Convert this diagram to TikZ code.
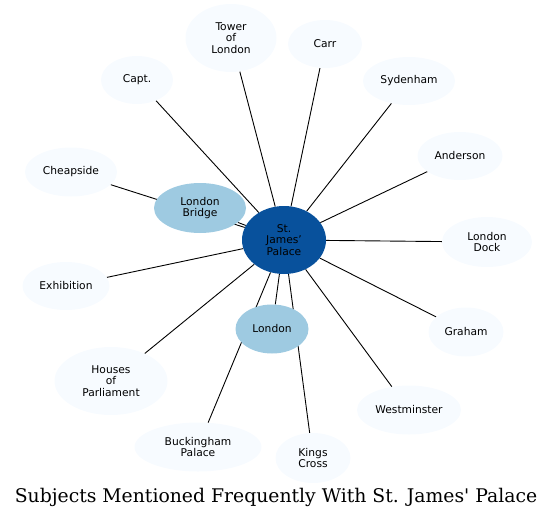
\documentclass[tikz,border=0pt]{standalone}
\usepackage{fontspec}
\setmainfont{DejaVu Sans}
\newfontfamily\titlefont{DejaVu Serif}
\usetikzlibrary{shapes.geometric,backgrounds}
\definecolor{hubblue}{HTML}{08519C}
\definecolor{nearblue}{HTML}{9ECAE1}
\definecolor{farblue}{HTML}{F7FBFF}
\begin{document}
\begin{tikzpicture}[x=1pt, y=-1pt, font=\fontsize{10.7}{11.7}\selectfont,
			spot/.style = {ellipse, inner sep=0pt, align=center},
			hub/.style = {spot, fill=hubblue, minimum width=84pt, minimum height=68pt},
			near/.style = {spot, fill=nearblue},
			far/.style = {spot, fill=farblue},
			link/.style = {draw=black, line width=0.9pt}]
			
			\useasboundingbox (0,0) rectangle (553,519);
			
			\node[hub] (sjp) at (284,240) {St.\\James'\\Palace};
			\node[near, minimum width=92pt, minimum height=50pt] (lb) at (200,208) {London\\Bridge};
			\node[near, minimum width=73pt, minimum height=49pt] (ldn) at (272,329) {London};
			
			\node[far, minimum width=91pt, minimum height=68pt] (tol) at (231,38) {Tower\\of\\London};
			\node[far, minimum width=74pt, minimum height=48pt] (carr) at (325,44) {Carr};
			\node[far, minimum width=72pt, minimum height=48pt] (capt) at (137,80) {Capt.};
			\node[far, minimum width=92pt, minimum height=48pt] (syd) at (409,81) {Sydenham};
			\node[far, minimum width=85pt, minimum height=48pt] (and) at (460,156) {Anderson};
			\node[far, minimum width=92pt, minimum height=49pt] (chp) at (71,172) {Cheapside};
			\node[far, minimum width=90pt, minimum height=50pt] (dock) at (487,242) {London\\Dock};
			\node[far, minimum width=87pt, minimum height=48pt] (exh) at (66,286) {Exhibition};
			\node[far, minimum width=75pt, minimum height=49pt] (gra) at (466,332) {Graham};
			\node[far, minimum width=113pt, minimum height=68pt] (hop) at (111,381) {Houses\\of\\Parliament};
			\node[far, minimum width=104pt, minimum height=49pt] (wst) at (409,410) {Westminster};
			\node[far, minimum width=127pt, minimum height=49pt] (bkp) at (198,447) {Buckingham\\Palace};
			\node[far, minimum width=75pt, minimum height=50pt] (kgx) at (313,458) {Kings\\Cross};
			
			% edges under the nodes
			\begin{scope}[on background layer]
			\foreach \n in {lb,ldn,tol,carr,capt,syd,and,chp,dock,exh,gra,hop,wst,bkp,kgx}
				\draw[link] (sjp) -- (\n);
			\end{scope}
			
			\node (title) at (276,497) {\titlefont\fontsize{18.8}{21}\selectfont Subjects Mentioned Frequently With St. James' Palace};
		\end{tikzpicture}
\end{document}
